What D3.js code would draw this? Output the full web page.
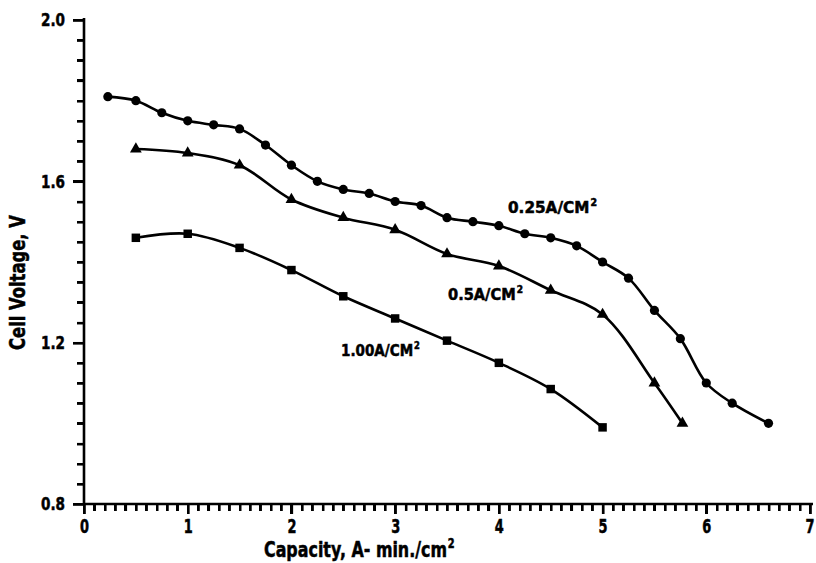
<!DOCTYPE html>
<html>
<head>
<meta charset="utf-8">
<script src="https://cdn.jsdelivr.net/npm/d3@7"></script>
<style>
  html, body { margin: 0; padding: 0; background: #fff; }
  svg { display: block; }
</style>
</head>
<body>
<svg id="chart" width="816" height="563"></svg>
<script>
// Discharge curves: capacity (A-min/cm²) vs cell voltage (V)
const cap025 = [0.23, 0.5, 0.75, 1.0, 1.25, 1.5, 1.75, 2.0, 2.25, 2.5, 2.75, 3.0, 3.25, 3.5, 3.75, 4.0, 4.25, 4.5, 4.75, 5.0, 5.25, 5.5, 5.75, 6.0, 6.25, 6.6];
const volt025 = [1.81, 1.80, 1.77, 1.75, 1.74, 1.73, 1.69, 1.64, 1.60, 1.58, 1.57, 1.55, 1.54, 1.51, 1.50, 1.49, 1.47, 1.46, 1.44, 1.40, 1.36, 1.28, 1.21, 1.10, 1.05, 1.00];

const cap05 = [0.5, 1.0, 1.5, 2.0, 2.5, 3.0, 3.5, 4.0, 4.5, 5.0, 5.5, 5.77];
const volt05 = [1.68, 1.67, 1.64, 1.555, 1.51, 1.48, 1.42, 1.39, 1.33, 1.27, 1.10, 1.00];

const cap100 = [0.5, 1.0, 1.5, 2.0, 2.5, 3.0, 3.5, 4.0, 4.5, 5.0];
const volt100 = [1.46, 1.47, 1.435, 1.38, 1.315, 1.26, 1.205, 1.15, 1.085, 0.99];

const xMajorTicks = [0, 1, 2, 3, 4, 5, 6, 7];
const yMajorTicks = [0.8, 1.2, 1.6, 2.0];

const seriesLabels = ["0.25A/CM", "0.5A/CM", "1.00A/CM"];

const svg = d3.select("#chart");
const x = d3.scaleLinear().domain([0, 7]).range([84, 810]);
const y = d3.scaleLinear().domain([0.8, 2.0]).range([504, 20]);

// Minor tick values (0.1 on capacity, 0.05 on voltage)
const xMinor = d3.range(0, 71, 1).map(d => d / 10);
const yMinor = d3.range(16, 41, 1).map(d => d / 20);
const isMajor = (v, list) => list.some(t => Math.abs(t - v) < 1e-9);

const x0 = x(0), yBase = y(0.8);
const font = "'Liberation Sans Narrow','DejaVu Sans Condensed','DejaVu Sans',sans-serif";

// Condensed heavy lettering: draw text, then squeeze it horizontally to a target width
function squeezedText(parent, str, sup, px, py, size, width, rotate) {
  const g = parent.append("g");
  const t = g.append("text").attr("x", 0).attr("y", 0).attr("font-size", size)
    .attr("font-family", font).attr("font-weight", "bold").attr("fill", "#000")
    .attr("stroke", "#000").attr("stroke-width", 0.5);
  t.append("tspan").text(str);
  if (sup) t.append("tspan").attr("dx", 1).attr("dy", -size * 0.42).attr("font-size", size * 0.62).text(sup);
  const w = t.node().getComputedTextLength() || width;
  g.attr("transform", `translate(${px},${py})${rotate ? " rotate(-90)" : ""} scale(${width / w},1)`);
  return g;
}

// Minor ticks through d3 axes
svg.append("g").attr("transform", `translate(0,${yBase})`)
  .call(d3.axisBottom(x).tickValues(xMinor.filter(d => !isMajor(d, xMajorTicks))).tickSize(7).tickFormat(""))
  .call(g => g.select(".domain").remove())
  .call(g => g.selectAll("line").attr("stroke", "#000").attr("stroke-width", 2.2));
svg.append("g").attr("transform", `translate(${x0},0)`)
  .call(d3.axisLeft(y).tickValues(yMinor.filter(d => !isMajor(d, yMajorTicks))).tickSize(7).tickFormat(""))
  .call(g => g.select(".domain").remove())
  .call(g => g.selectAll("line").attr("stroke", "#000").attr("stroke-width", 2.2));

// Major ticks and labels
svg.append("g").attr("transform", `translate(0,${yBase})`)
  .call(d3.axisBottom(x).tickValues(xMajorTicks).tickSize(10).tickPadding(5).tickFormat(d3.format("d")))
  .call(g => g.select(".domain").remove())
  .call(g => g.selectAll("line").attr("stroke", "#000").attr("stroke-width", 2.4))
  .call(g => g.selectAll("text").attr("font-size", 19).attr("dy", "0.72em")
    .attr("font-family", font).attr("font-weight", "bold").attr("fill", "#000")
    .attr("textLength", 9).attr("lengthAdjust", "spacingAndGlyphs")
    .attr("stroke", "#000").attr("stroke-width", 0.5)
    .filter(d => d === 7).attr("text-anchor", "end").attr("dx", 4));

svg.append("g").attr("transform", `translate(${x0},0)`)
  .call(d3.axisLeft(y).tickValues(yMajorTicks).tickSize(11).tickPadding(8).tickFormat(d3.format(".1f")))
  .call(g => g.select(".domain").remove())
  .call(g => g.selectAll("line").attr("stroke", "#000").attr("stroke-width", 2.4))
  .call(g => g.selectAll("text").attr("font-size", 18)
    .attr("font-family", font).attr("font-weight", "bold").attr("fill", "#000")
    .attr("textLength", 24).attr("lengthAdjust", "spacingAndGlyphs")
    .attr("stroke", "#000").attr("stroke-width", 0.5));

// Axis titles
squeezedText(svg, "Capacity, A- min./cm", "2", 264, 557, 22, 190, false);
squeezedText(svg, "Cell Voltage, V", null, 25, 350, 22, 135, true);

// Curves
const line = d3.line().x(d => x(d[0])).y(d => y(d[1])).curve(d3.curveCatmullRom.alpha(0.5));
const series = [
  { caps: cap025, volts: volt025, symbol: "circle" },
  { caps: cap05, volts: volt05, symbol: d3.symbolTriangle },
  { caps: cap100, volts: volt100, symbol: d3.symbolSquare }
];

series.forEach(s => {
  const pts = s.caps.map((c, i) => [c, s.volts[i]]);
  svg.append("path").datum(pts)
    .attr("fill", "none").attr("stroke", "#000").attr("stroke-width", 2.6)
    .attr("stroke-linejoin", "round").attr("d", line);
  const g = svg.append("g");
  if (s.symbol === "circle") {
    g.selectAll("circle").data(pts).join("circle")
      .attr("cx", d => x(d[0])).attr("cy", d => y(d[1])).attr("r", 4.6).attr("fill", "#000");
  } else {
    const size = s.symbol === d3.symbolSquare ? 72 : 60;
    g.selectAll("path").data(pts).join("path")
      .attr("transform", d => `translate(${x(d[0])},${y(d[1])})`)
      .attr("d", d3.symbol().type(s.symbol).size(size)).attr("fill", "#000");
  }
});

// Curve labels
squeezedText(svg, seriesLabels[0], "2", 508, 213, 16, 88, false);
squeezedText(svg, seriesLabels[1], "2", 448, 300, 16, 74, false);
squeezedText(svg, seriesLabels[2], "2", 341, 356, 16, 78, false);

// Axis lines
svg.append("path").attr("d", `M${x0},${y(2.0) - 2}V${yBase}H${x(7) + 3}`)
  .attr("stroke", "#000").attr("stroke-width", 2.6).attr("fill", "none");

// Tick bars placed by the scales, on top of everything
svg.append("g").selectAll("rect").data(xMinor).join("rect")
  .attr("x", d => Math.round(x(d)) - 1)
  .attr("y", yBase)
  .attr("width", 2.4)
  .attr("height", d => isMajor(d, xMajorTicks) ? 10 : 7)
  .attr("fill", "#000");
svg.append("g").selectAll("rect").data(yMinor).join("rect")
  .attr("x", d => x0 - (isMajor(d, yMajorTicks) ? 11 : 7))
  .attr("y", d => Math.round(y(d)) - 1)
  .attr("width", d => isMajor(d, yMajorTicks) ? 11 : 7)
  .attr("height", 2.4)
  .attr("fill", "#000");
</script>
</body>
</html>
